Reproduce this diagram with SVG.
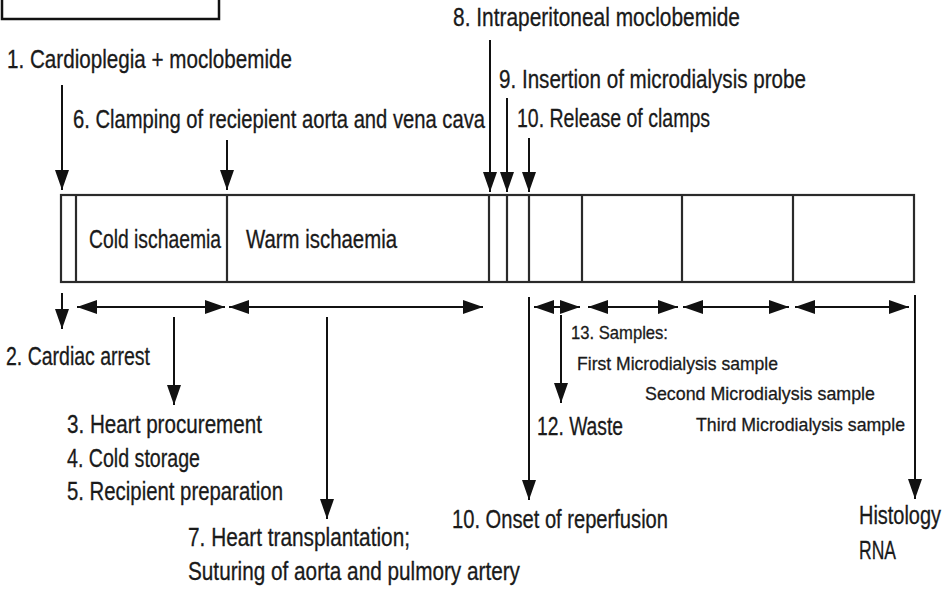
<svg xmlns="http://www.w3.org/2000/svg" width="947" height="600" viewBox="0 0 947 600">
<style>
  text { font-family: "Liberation Sans Narrow", "Liberation Sans", Arial, sans-serif; fill: #1a1a1a; stroke: #1a1a1a; stroke-width: 0.3; }
  .l { font-size: 25px; }
  .s { font-size: 19px; }
  .bar { fill: none; stroke: #2a2a2a; stroke-width: 2.2; }
  .div { stroke: #2a2a2a; stroke-width: 2.2; }
  .arr { stroke: #111; stroke-width: 2; fill: none; marker-end: url(#ah); }
  .dbl { stroke: #111; stroke-width: 2; fill: none; marker-start: url(#ah); marker-end: url(#ah); }
</style>
<defs>
  <marker id="ah" markerUnits="userSpaceOnUse" markerWidth="20" markerHeight="14" refX="20" refY="7" orient="auto-start-reverse" viewBox="0 0 20 14">
    <path d="M0,0 L20,7 L0,14 z" fill="#111"/>
  </marker>
</defs>
<rect width="947" height="600" fill="#ffffff"/>

<g id="corner-box">
  <rect x="2" y="-6" width="217" height="25" fill="none" stroke="#111" stroke-width="2.5"/>
</g>

<g id="timeline-bar">
  <rect class="bar" x="61" y="195" width="853" height="87"/>
  <line class="div" x1="76" y1="195" x2="76" y2="282"/>
  <line class="div" x1="227" y1="195" x2="227" y2="282"/>
  <line class="div" x1="489" y1="195" x2="489" y2="282"/>
  <line class="div" x1="507" y1="195" x2="507" y2="282"/>
  <line class="div" x1="529" y1="195" x2="529" y2="282"/>
  <line class="div" x1="582" y1="195" x2="582" y2="282"/>
  <line class="div" x1="682" y1="195" x2="682" y2="282"/>
  <line class="div" x1="793" y1="195" x2="793" y2="282"/>
</g>
<g id="cold-ischaemia"><text class="l" x="89" y="248" textLength="132" lengthAdjust="spacingAndGlyphs">Cold ischaemia</text></g>
<g id="warm-ischaemia"><text class="l" x="246" y="248" textLength="151" lengthAdjust="spacingAndGlyphs">Warm ischaemia</text></g>

<g id="step1"><text class="l" x="7" y="68" textLength="285" lengthAdjust="spacingAndGlyphs">1. Cardioplegia + moclobemide</text></g>
<g id="step6"><text class="l" x="73" y="128" textLength="412" lengthAdjust="spacingAndGlyphs">6. Clamping of reciepient aorta and vena cava</text></g>
<g id="step8"><text class="l" x="453" y="26" textLength="287" lengthAdjust="spacingAndGlyphs">8. Intraperitoneal moclobemide</text></g>
<g id="step9"><text class="l" x="499" y="88" textLength="307" lengthAdjust="spacingAndGlyphs">9. Insertion of microdialysis probe</text></g>
<g id="step10-release"><text class="l" x="517" y="127" textLength="193" lengthAdjust="spacingAndGlyphs">10. Release of clamps</text></g>

<g id="step2"><text class="l" x="6" y="365" textLength="144" lengthAdjust="spacingAndGlyphs">2. Cardiac arrest</text></g>
<g id="steps3-5">
  <text class="l" x="67" y="433" textLength="195" lengthAdjust="spacingAndGlyphs">3. Heart procurement</text>
  <text class="l" x="67" y="467" textLength="133" lengthAdjust="spacingAndGlyphs">4. Cold storage</text>
  <text class="l" x="67" y="500" textLength="216" lengthAdjust="spacingAndGlyphs">5. Recipient preparation</text>
</g>
<g id="step7">
  <text class="l" x="188" y="546" textLength="222" lengthAdjust="spacingAndGlyphs">7. Heart transplantation;</text>
  <text class="l" x="188" y="580" textLength="332" lengthAdjust="spacingAndGlyphs">Suturing of aorta and pulmory artery</text>
</g>
<g id="step10-onset"><text class="l" x="452" y="528" textLength="216" lengthAdjust="spacingAndGlyphs">10. Onset of reperfusion</text></g>
<g id="step12"><text class="l" x="537" y="435" textLength="86" lengthAdjust="spacingAndGlyphs">12. Waste</text></g>
<g id="step13">
  <text class="s" x="571" y="339" textLength="97" lengthAdjust="spacingAndGlyphs">13. Samples:</text>
  <text class="s" x="577" y="370" textLength="201" lengthAdjust="spacingAndGlyphs">First Microdialysis sample</text>
  <text class="s" x="645" y="400" textLength="230" lengthAdjust="spacingAndGlyphs">Second Microdialysis sample</text>
  <text class="s" x="696" y="431" textLength="209" lengthAdjust="spacingAndGlyphs">Third Microdialysis sample</text>
</g>
<g id="histology">
  <text class="l" x="859" y="524" textLength="82" lengthAdjust="spacingAndGlyphs">Histology</text>
  <text class="l" x="859" y="559" textLength="37" lengthAdjust="spacingAndGlyphs">RNA</text>
</g>

<g id="connectors">
  <line class="arr" x1="62" y1="85" x2="62" y2="190"/>
  <line class="arr" x1="227" y1="140" x2="227" y2="190"/>
  <line class="arr" x1="490" y1="40" x2="490" y2="192"/>
  <line class="arr" x1="507" y1="98" x2="507" y2="192"/>
  <line class="arr" x1="529" y1="138" x2="529" y2="192"/>

  <line class="dbl" x1="77" y1="307" x2="225" y2="307"/>
  <line class="dbl" x1="229" y1="307" x2="483" y2="307"/>
  <line class="dbl" x1="534" y1="307" x2="580" y2="307"/>
  <line class="dbl" x1="588" y1="307" x2="678" y2="307"/>
  <line class="dbl" x1="683" y1="307" x2="789" y2="307"/>
  <line class="dbl" x1="795" y1="307" x2="909" y2="307"/>

  <line class="arr" x1="62" y1="293" x2="62" y2="329"/>
  <line class="arr" x1="174" y1="317" x2="174" y2="405"/>
  <line class="arr" x1="327" y1="317" x2="327" y2="519"/>
  <line class="arr" x1="529" y1="297" x2="529" y2="500"/>
  <line class="arr" x1="561" y1="315" x2="561" y2="403"/>
  <line class="arr" x1="915" y1="295" x2="915" y2="499"/>
</g>
</svg>
